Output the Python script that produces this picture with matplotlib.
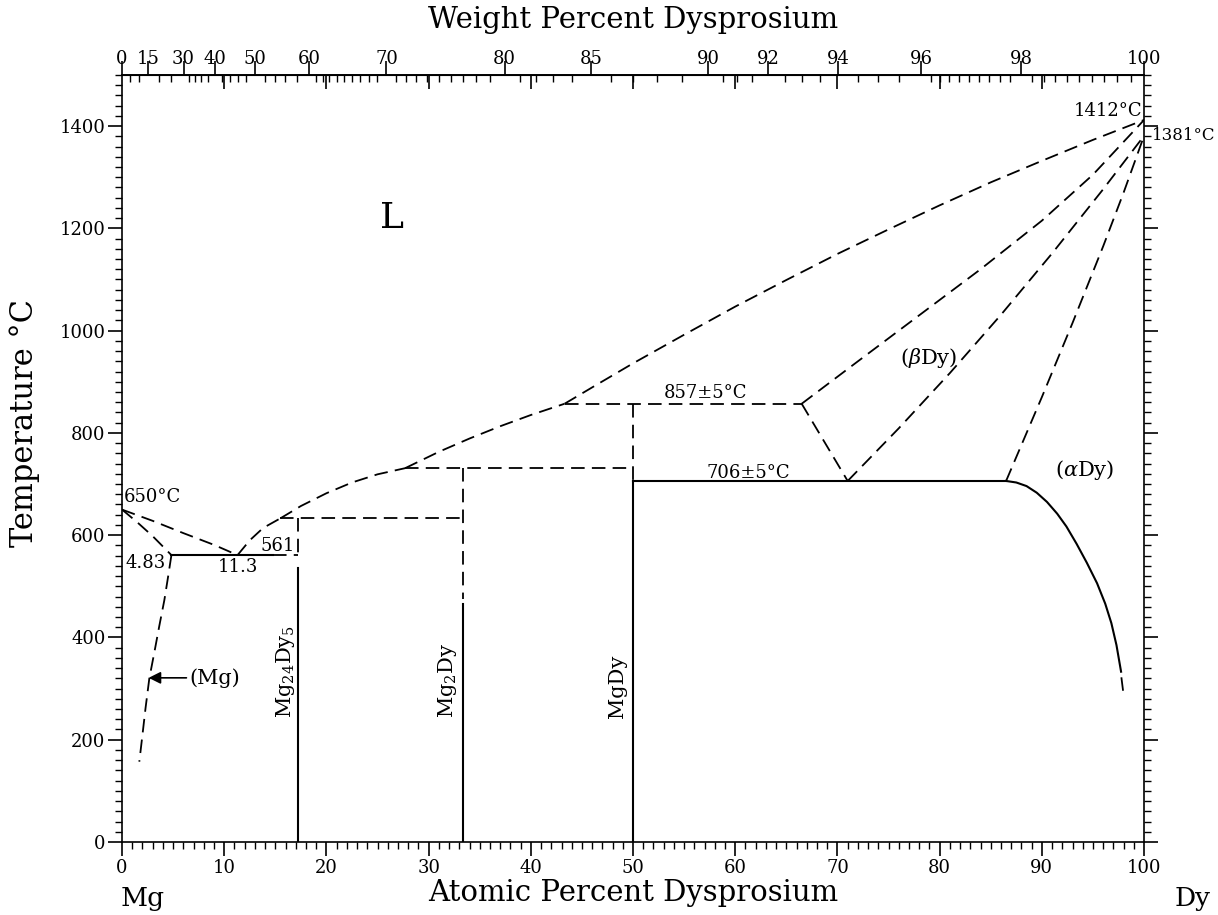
import numpy as np
import matplotlib.pyplot as plt
from matplotlib.ticker import NullLocator

plt.rcParams["font.family"] = "DejaVu Serif"
plt.rcParams["mathtext.fontset"] = "dejavuserif"

MG, DY = 24.305, 162.5

# ---- phase boundaries (at.% Dy, deg C) ----
liq_mg_x = [0, 3, 6, 9, 11.3]
liq_mg_t = [650, 628, 604, 581, 561]
sol_mg_x = [0, 1.5, 3, 4.83]
sol_mg_t = [650, 625, 598, 561]
solvus_mg_x = [4.83, 4.5, 4.14, 3.65, 3.2, 2.67, 2.3, 2.0, 1.69]
solvus_mg_t = [561, 518, 473, 423, 375, 320, 262, 210, 157]
liq_a_x = [11.3, 12.5, 13.8, 15.5]
liq_a_t = [561, 590, 614, 633]
liq_b_x = [15.5, 17.5, 20, 22.5, 25, 27.7]
liq_b_t = [633, 657, 682, 703, 719, 731]
liq_c_x = [27.7, 31, 34, 37, 40, 43.3]
liq_c_t = [731, 763, 789, 813, 835, 857]
liq_d_x = [43.3, 46, 50, 55, 60, 65, 70, 75, 80, 85, 90, 95, 100]
liq_d_t = [857, 889, 936, 992, 1047, 1099, 1150, 1198, 1245, 1290, 1332, 1373, 1412]
sol_bdy_x = [66.5, 72, 78, 84, 90, 95, 100]
sol_bdy_t = [857, 940, 1030, 1120, 1215, 1305, 1412]
bdy_lo_x = [66.5, 71]
bdy_lo_t = [857, 706]
bdy_hi_x = [71, 76, 81, 86, 91, 95.9, 100]
bdy_hi_t = [706, 809, 917, 1031, 1151, 1274, 1381]
ady_hi_x = [86.5, 90, 93, 96, 98, 100]
ady_hi_t = [706, 870, 1015, 1165, 1270, 1381]
ady_solvus_x = [86.5, 87.5, 88.5, 89.5, 90.5, 91.5, 92.4, 93.4, 94.4, 95.4,
                96.2, 96.8, 97.3, 97.75]
ady_solvus_t = [706, 703, 696, 683, 665, 642, 617, 583, 546, 506,
                466, 428, 385, 333]
ady_tail_x = [97.78, 98.0]
ady_tail_t = [322, 287]

dashed_curves = [
    (liq_mg_x, liq_mg_t), (sol_mg_x, sol_mg_t), (solvus_mg_x, solvus_mg_t),
    (liq_a_x, liq_a_t), (liq_b_x, liq_b_t), (liq_c_x, liq_c_t),
    (liq_d_x, liq_d_t), (sol_bdy_x, sol_bdy_t), (bdy_lo_x, bdy_lo_t),
    (bdy_hi_x, bdy_hi_t), (ady_hi_x, ady_hi_t), (ady_tail_x, ady_tail_t),
]

# isotherms
iso_t = [561, 561, 633, 731, 857, 706]
iso_x0 = [4.83, 14.8, 15.5, 27.7, 43.3, 50]
iso_x1 = [14.8, 17.24, 33.33, 50, 66.5, 86.5]
iso_solid = [True, False, False, False, False, True]

# compounds
comp_x = [17.24, 33.33, 50]
comp_dash_top = [633, 731, 857]
comp_dash_bot = [561, 475, 706]
comp_solid_top = [535, 465, 706]
comp_names = ["Mg$_{24}$Dy$_5$", "Mg$_2$Dy", "MgDy"]
comp_label_x = [15.95, 31.8, 48.5]

# top axis (weight percent)
wt_major = [0, 15, 30, 40, 50, 60, 70, 80, 85, 90, 92, 94, 96, 98, 100]
wt_minor = ([5, 10, 20, 25] + list(range(32, 60, 2)) + list(range(61, 90)) +
            [90.5, 91, 91.5, 92.5, 93, 93.5, 94.5, 95, 95.5] +
            [96.2, 96.4, 96.6, 96.8, 97, 97.2, 97.4, 97.6, 97.8,
             98.2, 98.4, 98.6, 98.8, 99, 99.2, 99.4, 99.6, 99.8])


def at2wt(a):
    a = np.asarray(a, float)
    return 100 * a * DY / (a * DY + (100 - a) * MG)


def wt2at(w):
    w = np.asarray(w, float)
    return 100 * (w / DY) / (w / DY + (100 - w) / MG)


fig = plt.figure(figsize=(12.18, 9.15), dpi=100)
ax = fig.add_axes([0.1002, 0.0798, 0.8391, 0.8383])
ax.set_xlim(0, 100)
ax.set_ylim(0, 1500)

dash = (7.5, 4)
for xs, ts in dashed_curves:
    ax.plot(xs, ts, color="k", lw=1.3, dashes=dash)
ax.plot(ady_solvus_x, ady_solvus_t, color="k", lw=1.5)

for t, x0, x1, solid in zip(iso_t, iso_x0, iso_x1, iso_solid):
    if solid:
        ax.plot([x0, x1], [t, t], color="k", lw=1.5)
    else:
        ax.plot([x0, x1], [t, t], color="k", lw=1.3, dashes=dash)

for x, dt, db, st, name, lx in zip(comp_x, comp_dash_top, comp_dash_bot,
                                   comp_solid_top, comp_names, comp_label_x):
    ax.plot([x, x], [dt, db], color="k", lw=1.3, dashes=dash)
    ax.plot([x, x], [st, 0], color="k", lw=1.5)
    ax.text(lx, 242, name, rotation=90, ha="center", va="bottom", fontsize=15)

# ---- labels ----
ax.text(26.4, 1220, "L", fontsize=26, ha="center", va="center")
ax.text(78.9, 946, r"($\beta$Dy)", fontsize=15, ha="center", va="center")
ax.text(94.2, 727, r"($\alpha$Dy)", fontsize=15, ha="center", va="center")
ax.text(57.1, 878, "857±5°C", fontsize=13, ha="center", va="center")
ax.text(61.25, 721, "706±5°C", fontsize=13, ha="center", va="center")
ax.text(0.2, 675, "650°C", fontsize=13, ha="left", va="center")
ax.text(4.3, 546, "4.83", fontsize=13, ha="right", va="center")
ax.text(11.3, 538, "11.3", fontsize=13, ha="center", va="center")
ax.text(15.2, 579, "561", fontsize=13, ha="center", va="center")
ax.text(99.8, 1430, "1412°C", fontsize=13, ha="right", va="center")
ax.text(100.8, 1382, "1381°C", fontsize=12, ha="left", va="center",
        clip_on=False)
ax.text(9.1, 321, "(Mg)", fontsize=15, ha="center", va="center")
ax.annotate("", xy=(2.6, 321), xytext=(6.3, 321),
            arrowprops=dict(arrowstyle="-|>", color="k", lw=1.2,
                            mutation_scale=18, shrinkA=0, shrinkB=0))

# ---- axes ----
for s in ax.spines.values():
    s.set_linewidth(1.2)
ax.set_xticks(np.arange(0, 101, 10))
ax.set_xticks(np.arange(0, 101, 1), minor=True)
ax.set_yticks(np.arange(0, 1401, 200))
ax.set_yticks(np.arange(0, 1501, 20), minor=True)
ax.tick_params(which="major", length=10, width=1.2, direction="out",
               top=False, right=True, labelsize=13, pad=2)
ax.tick_params(which="minor", length=5, width=1.0, direction="out",
               top=False, right=True)

sec = ax.secondary_xaxis("top", functions=(at2wt, wt2at))
sec.set_xticks(wt_major)
sec.set_xticklabels([str(v) for v in wt_major])
sec.set_xticks(wt_minor, minor=True)
sec.tick_params(which="major", direction="out", length=10, width=1.2,
                labelsize=13, pad=-5)
sec.tick_params(which="minor", direction="in", length=5, width=1.0)
sec.spines["top"].set_linewidth(1.2)

sec2 = ax.secondary_xaxis("top")
sec2.set_xticks(np.arange(10, 100, 10))
sec2.xaxis.set_minor_locator(NullLocator())
sec2.tick_params(which="major", direction="in", length=10, width=1.2,
                 labeltop=False)

fig.text(0.52, 0.978, "Weight Percent Dysprosium", fontsize=21,
         ha="center", va="center")
fig.text(0.52, 0.024, "Atomic Percent Dysprosium", fontsize=21,
         ha="center", va="center")
fig.text(0.117, 0.018, "Mg", fontsize=19, ha="center", va="center")
fig.text(0.979, 0.018, "Dy", fontsize=19, ha="center", va="center")
fig.text(0.0205, 0.538, "Temperature °C", fontsize=22, rotation=90,
         ha="center", va="center")

fig.savefig("out.png", dpi=100)
